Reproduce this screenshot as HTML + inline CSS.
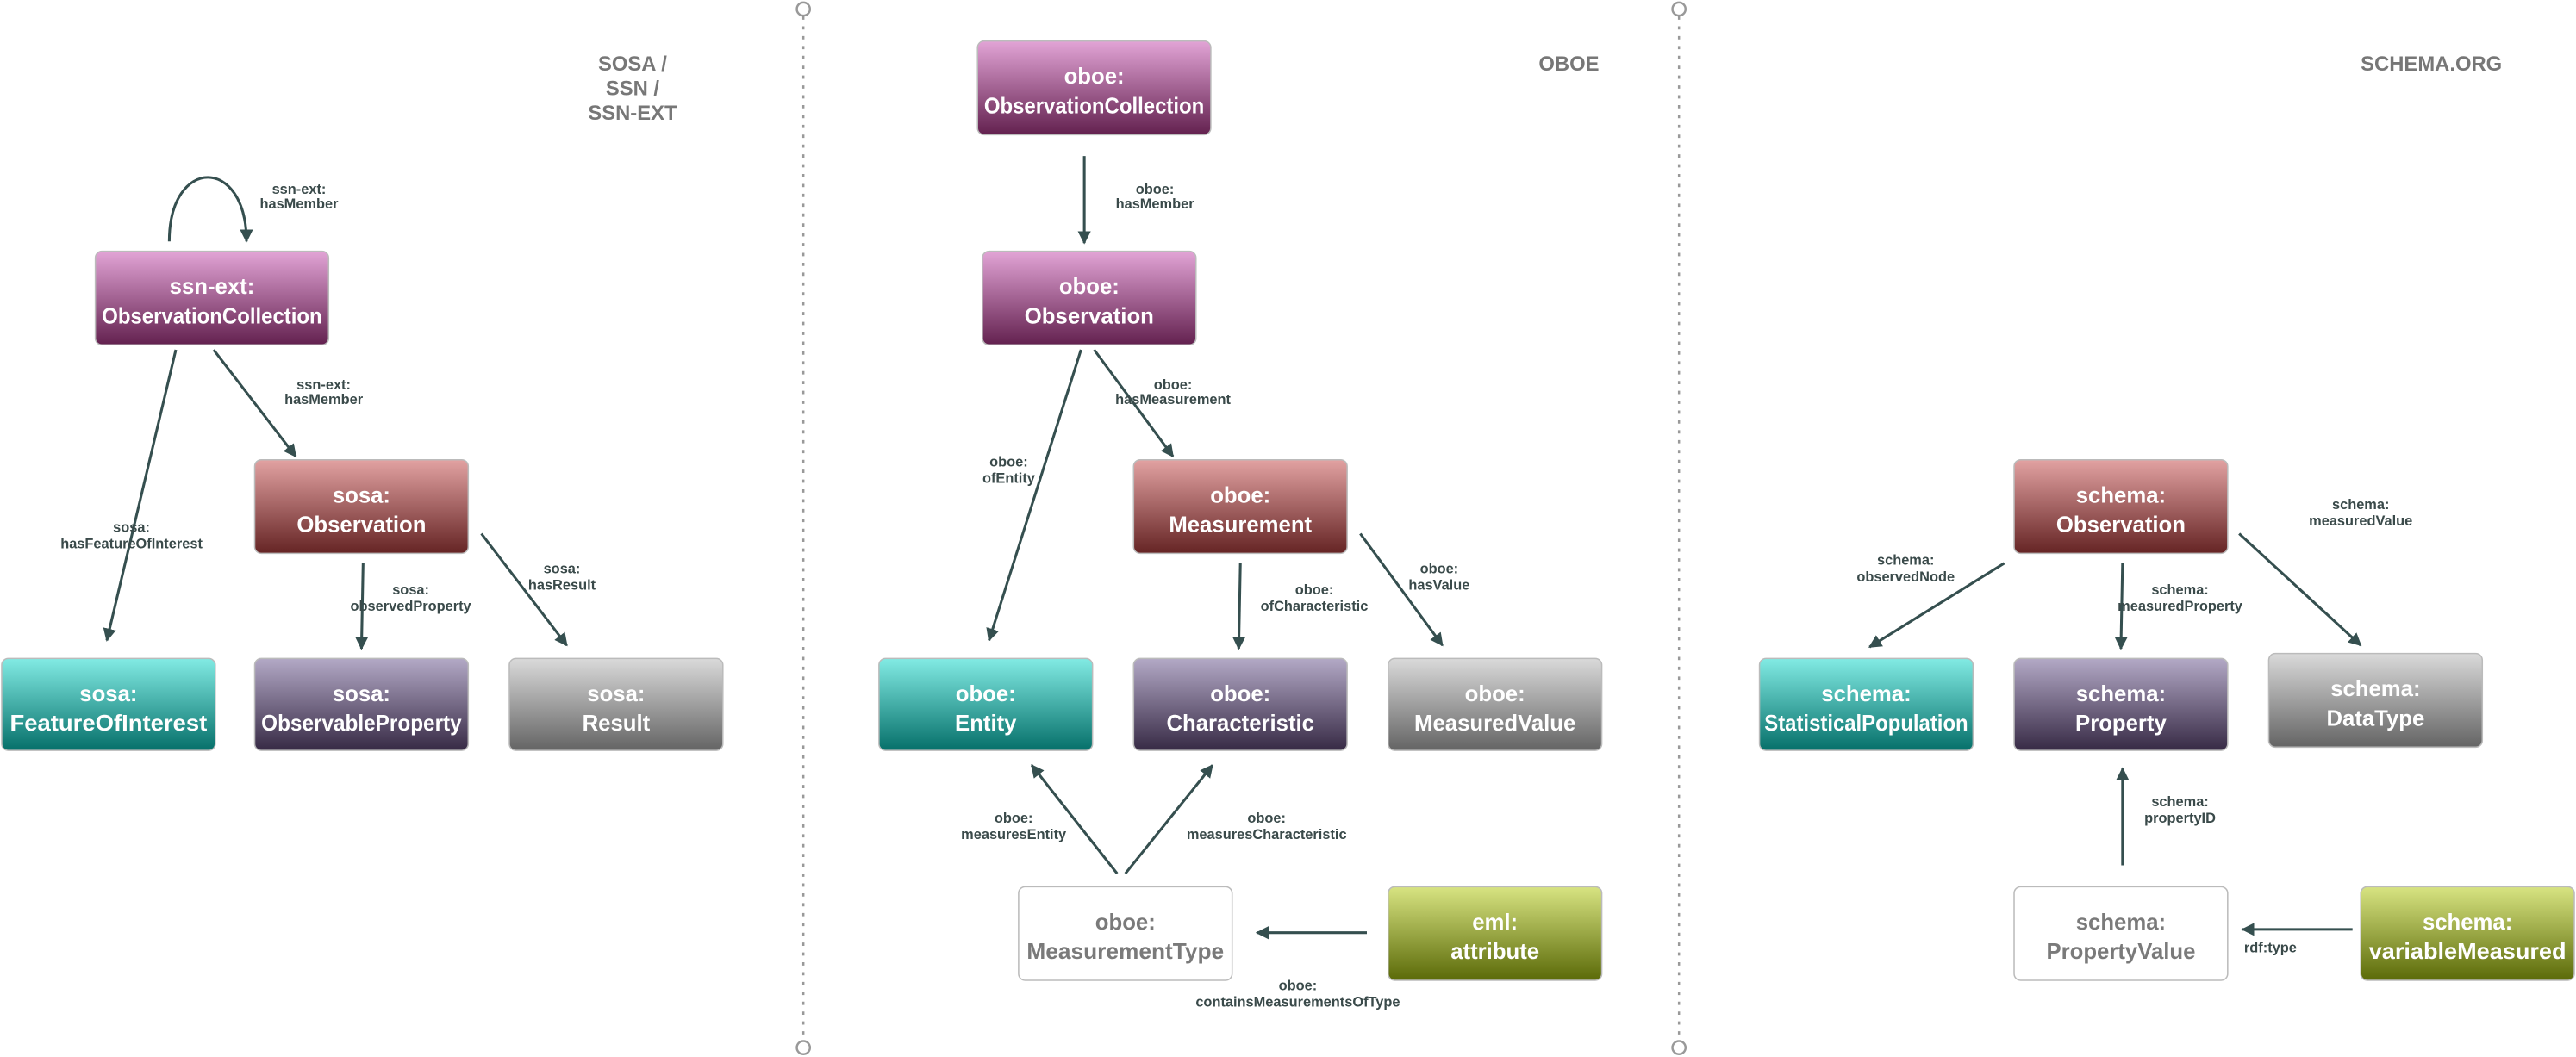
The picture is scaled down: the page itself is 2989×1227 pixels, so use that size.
<!DOCTYPE html>
<html><head><meta charset="utf-8"><style>
html,body{margin:0;padding:0;background:#fff;}
svg{display:block;}
text{font-family:"Liberation Sans",sans-serif;font-weight:bold;}
.n{fill:#fff;font-size:13.5px;}
.w{fill:#7a7a7a;font-size:13.5px;}
.l{fill:#3a4a4a;font-size:8.6px;}
.t{fill:#777;font-size:12.5px;}
.a{stroke:#354f4f;stroke-width:1.6;fill:none;marker-end:url(#ah);}
</style></head><body>
<svg width="2989" height="1227" viewBox="0 0 1568 643.7" xmlns="http://www.w3.org/2000/svg">
<defs>
<marker id="ah" viewBox="0 0 10 10" refX="9" refY="5" markerWidth="5" markerHeight="6" markerUnits="strokeWidth" orient="auto"><path d="M0,0 L10,5 L0,10 z" fill="#354f4f"/></marker>
<linearGradient id="pk" x1="0" y1="0" x2="0" y2="1"><stop offset="0" stop-color="#e2a4d6"/><stop offset="1" stop-color="#63214f"/></linearGradient>
<linearGradient id="rd" x1="0" y1="0" x2="0" y2="1"><stop offset="0" stop-color="#e2a2a2"/><stop offset="1" stop-color="#652424"/></linearGradient>
<linearGradient id="tl" x1="0" y1="0" x2="0" y2="1"><stop offset="0" stop-color="#82ebe4"/><stop offset="1" stop-color="#06706a"/></linearGradient>
<linearGradient id="pu" x1="0" y1="0" x2="0" y2="1"><stop offset="0" stop-color="#b3a9c6"/><stop offset="1" stop-color="#372a45"/></linearGradient>
<linearGradient id="gy" x1="0" y1="0" x2="0" y2="1"><stop offset="0" stop-color="#dadada"/><stop offset="1" stop-color="#646464"/></linearGradient>
<linearGradient id="ol" x1="0" y1="0" x2="0" y2="1"><stop offset="0" stop-color="#d8e482"/><stop offset="1" stop-color="#5b6a08"/></linearGradient>
</defs>

<!-- dividers -->
<g stroke="#999" stroke-width="1.3" fill="none">
<line x1="489" y1="10" x2="489" y2="634" stroke-dasharray="2,4"/>
<line x1="1022" y1="10" x2="1022" y2="634" stroke-dasharray="2,4"/>
<circle cx="489" cy="5.5" r="4" fill="#fff"/><circle cx="489" cy="638" r="4" fill="#fff"/>
<circle cx="1022" cy="5.5" r="4" fill="#fff"/><circle cx="1022" cy="638" r="4" fill="#fff"/>
</g>

<!-- titles -->
<g class="t" text-anchor="middle">
<text x="385" y="43">SOSA /</text><text x="385" y="58">SSN /</text><text x="385" y="73">SSN-EXT</text>
<text x="955" y="43">OBOE</text>
<text x="1480" y="43">SCHEMA.ORG</text>
</g>

<!-- nodes -->
<g stroke="#bbb" stroke-width="0.8">
<rect x="58" y="153" width="142" height="57" rx="4" fill="url(#pk)"/>
<rect x="155" y="280" width="130" height="57" rx="4" fill="url(#rd)"/>
<rect x="1" y="401" width="130" height="56" rx="4" fill="url(#tl)"/>
<rect x="155" y="401" width="130" height="56" rx="4" fill="url(#pu)"/>
<rect x="310" y="401" width="130" height="56" rx="4" fill="url(#gy)"/>

<rect x="595" y="25" width="142" height="57" rx="4" fill="url(#pk)"/>
<rect x="598" y="153" width="130" height="57" rx="4" fill="url(#pk)"/>
<rect x="690" y="280" width="130" height="57" rx="4" fill="url(#rd)"/>
<rect x="535" y="401" width="130" height="56" rx="4" fill="url(#tl)"/>
<rect x="690" y="401" width="130" height="56" rx="4" fill="url(#pu)"/>
<rect x="845" y="401" width="130" height="56" rx="4" fill="url(#gy)"/>
<rect x="620" y="540" width="130" height="57" rx="4" fill="#fff"/>
<rect x="845" y="540" width="130" height="57" rx="4" fill="url(#ol)"/>

<rect x="1226" y="280" width="130" height="57" rx="4" fill="url(#rd)"/>
<rect x="1071" y="401" width="130" height="56" rx="4" fill="url(#tl)"/>
<rect x="1226" y="401" width="130" height="56" rx="4" fill="url(#pu)"/>
<rect x="1381" y="398" width="130" height="57" rx="4" fill="url(#gy)"/>
<rect x="1226" y="540" width="130" height="57" rx="4" fill="#fff"/>
<rect x="1437" y="540" width="130" height="57" rx="4" fill="url(#ol)"/>
</g>

<g class="n" text-anchor="middle">
<text x="129" y="179">ssn-ext:</text><text x="129" y="197" textLength="134" lengthAdjust="spacingAndGlyphs">ObservationCollection</text>
<text x="220" y="306">sosa:</text><text x="220" y="324">Observation</text>
<text x="66" y="427">sosa:</text><text x="66" y="445" textLength="120" lengthAdjust="spacingAndGlyphs">FeatureOfInterest</text>
<text x="220" y="427">sosa:</text><text x="220" y="445" textLength="122" lengthAdjust="spacingAndGlyphs">ObservableProperty</text>
<text x="375" y="427">sosa:</text><text x="375" y="445">Result</text>

<text x="666" y="51">oboe:</text><text x="666" y="69" textLength="134" lengthAdjust="spacingAndGlyphs">ObservationCollection</text>
<text x="663" y="179">oboe:</text><text x="663" y="197">Observation</text>
<text x="755" y="306">oboe:</text><text x="755" y="324">Measurement</text>
<text x="600" y="427">oboe:</text><text x="600" y="445">Entity</text>
<text x="755" y="427">oboe:</text><text x="755" y="445">Characteristic</text>
<text x="910" y="427">oboe:</text><text x="910" y="445">MeasuredValue</text>
<text x="910" y="566">eml:</text><text x="910" y="584">attribute</text>

<text x="1291" y="306">schema:</text><text x="1291" y="324">Observation</text>
<text x="1136" y="427">schema:</text><text x="1136" y="445" textLength="124" lengthAdjust="spacingAndGlyphs">StatisticalPopulation</text>
<text x="1291" y="427">schema:</text><text x="1291" y="445">Property</text>
<text x="1446" y="424">schema:</text><text x="1446" y="442">DataType</text>
<text x="1502" y="566">schema:</text><text x="1502" y="584" textLength="120" lengthAdjust="spacingAndGlyphs">variableMeasured</text>
</g>
<g class="w" text-anchor="middle">
<text x="685" y="566">oboe:</text><text x="685" y="584" textLength="120" lengthAdjust="spacingAndGlyphs">MeasurementType</text>
<text x="1291" y="566">schema:</text><text x="1291" y="584">PropertyValue</text>
</g>

<!-- arrows -->
<path class="a" d="M103,147 C103,95 150,95 150,147"/>
<line class="a" x1="130" y1="213" x2="180" y2="278"/>
<line class="a" x1="107" y1="213" x2="65" y2="390"/>
<line class="a" x1="221" y1="343" x2="220" y2="395"/>
<line class="a" x1="293" y1="325" x2="345" y2="393"/>

<line class="a" x1="660" y1="95" x2="660" y2="148"/>
<line class="a" x1="658" y1="213" x2="602" y2="390"/>
<line class="a" x1="666" y1="213" x2="714" y2="278"/>
<line class="a" x1="755" y1="343" x2="754" y2="395"/>
<line class="a" x1="828" y1="325" x2="878" y2="393"/>
<line class="a" x1="680" y1="532" x2="628" y2="466"/>
<line class="a" x1="685" y1="532" x2="738" y2="466"/>
<line class="a" x1="832" y1="568" x2="765" y2="568"/>

<line class="a" x1="1220" y1="343" x2="1138" y2="394"/>
<line class="a" x1="1292" y1="343" x2="1291" y2="395"/>
<line class="a" x1="1363" y1="325" x2="1437" y2="393"/>
<line class="a" x1="1292" y1="527" x2="1292" y2="468"/>
<line class="a" x1="1432" y1="566" x2="1365" y2="566"/>

<!-- labels -->
<g class="l" text-anchor="middle">
<text x="182" y="118">ssn-ext:</text><text x="182" y="127">hasMember</text>
<text x="197" y="237">ssn-ext:</text><text x="197" y="246">hasMember</text>
<text x="80" y="324">sosa:</text><text x="80" y="334">hasFeatureOfInterest</text>
<text x="250" y="362">sosa:</text><text x="250" y="372">observedProperty</text>
<text x="342" y="349">sosa:</text><text x="342" y="359">hasResult</text>

<text x="703" y="118">oboe:</text><text x="703" y="127">hasMember</text>
<text x="714" y="237">oboe:</text><text x="714" y="246">hasMeasurement</text>
<text x="614" y="284">oboe:</text><text x="614" y="294">ofEntity</text>
<text x="800" y="362">oboe:</text><text x="800" y="372">ofCharacteristic</text>
<text x="876" y="349">oboe:</text><text x="876" y="359">hasValue</text>
<text x="617" y="501">oboe:</text><text x="617" y="511">measuresEntity</text>
<text x="771" y="501">oboe:</text><text x="771" y="511">measuresCharacteristic</text>
<text x="790" y="603">oboe:</text><text x="790" y="613">containsMeasurementsOfType</text>

<text x="1160" y="344">schema:</text><text x="1160" y="354">observedNode</text>
<text x="1327" y="362">schema:</text><text x="1327" y="372">measuredProperty</text>
<text x="1437" y="310">schema:</text><text x="1437" y="320">measuredValue</text>
<text x="1327" y="491">schema:</text><text x="1327" y="501">propertyID</text>
<text x="1382" y="580">rdf:type</text>
</g>
</svg>
</body></html>
